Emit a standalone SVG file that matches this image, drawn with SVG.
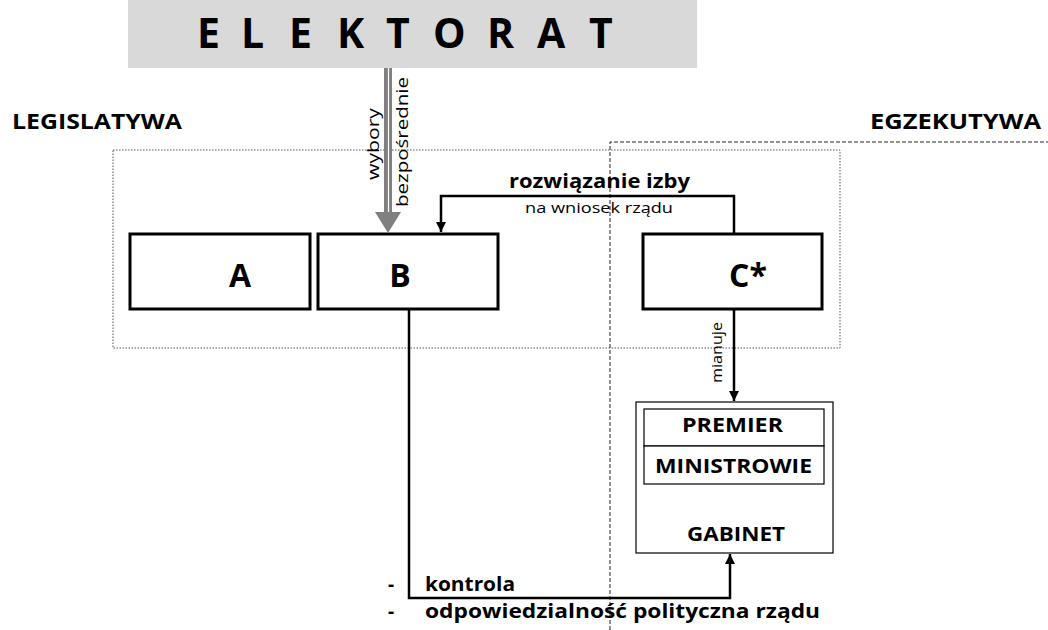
<svg xmlns="http://www.w3.org/2000/svg" width="1048" height="630" viewBox="0 0 1048 630">
<defs>
<style>
text{font-family:"Open Sans","DejaVu Sans",sans-serif;fill:#000}
.b{font-weight:bold}
.box{fill:#fff;stroke:#000;stroke-width:3}
.thin{fill:#fff;stroke:#000;stroke-width:1.2}
.ln{fill:none;stroke:#000;stroke-width:2.5}
</style>
<marker id="ah" viewBox="0 0 10 10" refX="10" refY="5" markerWidth="4" markerHeight="4" orient="auto" markerUnits="strokeWidth">
<path d="M0,0 L10,5 L0,10 z" fill="#000"/>
</marker>
</defs>
<rect width="1048" height="630" fill="#fff"/>
<g id="regions">
<rect x="113" y="150" width="727" height="198" fill="none" stroke="#555" stroke-width="1" stroke-dasharray="1.5,1.5"/>
<path d="M610,630 V142 H1048" fill="none" stroke="#222" stroke-width="1" stroke-dasharray="4,2"/>
<text x="12" y="129" class="b" font-size="21" textLength="170" lengthAdjust="spacingAndGlyphs">LEGISLATYWA</text>
<text x="870" y="129" class="b" font-size="21" textLength="171" lengthAdjust="spacingAndGlyphs">EGZEKUTYWA</text>
</g>
<g id="elektorat">
<rect x="128" y="0" width="569" height="68" fill="#d9d9d9"/>
<text y="48" class="b" font-size="41" x="197 241 289 337 386 433 487 537 589">ELEKTORAT</text>
</g>
<g id="nodeA"><rect x="130" y="234" width="180" height="75" class="box"/><text x="240" y="287" class="b" font-size="32" text-anchor="middle">A</text></g>
<g id="nodeB"><rect x="318" y="234" width="180" height="75" class="box"/><text x="400" y="287" class="b" font-size="32" text-anchor="middle">B</text></g>
<g id="nodeC"><rect x="643" y="234" width="179" height="75" class="box"/><text x="748" y="287" class="b" font-size="32" text-anchor="middle">C*</text></g>
<g id="gabinet">
<rect x="636" y="402" width="197" height="151" class="thin"/>
<rect x="644" y="409" width="180" height="37" class="thin"/>
<rect x="644" y="446" width="180" height="38" class="thin"/>
<text x="682" y="432" class="b" font-size="19" textLength="101" lengthAdjust="spacingAndGlyphs">PREMIER</text>
<text x="655" y="473" class="b" font-size="19" textLength="157" lengthAdjust="spacingAndGlyphs">MINISTROWIE</text>
<text x="687" y="541" class="b" font-size="19" textLength="98" lengthAdjust="spacingAndGlyphs">GABINET</text>
</g>
<g id="connectors">
<rect x="384" y="68" width="8" height="145" fill="#808080"/>
<line x1="388.5" y1="68" x2="388.5" y2="213" stroke="#fff" stroke-width="1.2"/>
<path d="M375,212 H401 L388,233 z" fill="#808080"/>
<text transform="translate(379,180) rotate(-90)" font-size="17" textLength="72" lengthAdjust="spacingAndGlyphs">wybory</text>
<text transform="translate(408,207) rotate(-90)" font-size="17" textLength="130" lengthAdjust="spacingAndGlyphs">bezpośrednie</text>
<path d="M734,234 V196 H441 V232" class="ln" marker-end="url(#ah)"/>
<text x="509" y="188" class="b" font-size="19" textLength="181" lengthAdjust="spacingAndGlyphs">rozwiązanie izby</text>
<text x="525" y="213" font-size="15" textLength="148" lengthAdjust="spacingAndGlyphs">na wniosek rządu</text>
<path d="M734,309 V401" class="ln" marker-end="url(#ah)"/>
<text transform="translate(722,383) rotate(-90)" font-size="15" textLength="61" lengthAdjust="spacingAndGlyphs">mianuje</text>
<path d="M409,309 V598 H730 V554" class="ln" marker-end="url(#ah)"/>
<text x="388" y="591" class="b" font-size="19">-</text>
<text x="425" y="591" class="b" font-size="19" textLength="90" lengthAdjust="spacingAndGlyphs">kontrola</text>
<text x="388" y="618" class="b" font-size="19">-</text>
<text x="425" y="618" class="b" font-size="19" textLength="395" lengthAdjust="spacingAndGlyphs">odpowiedzialność polityczna rządu</text>
</g>
</svg>
